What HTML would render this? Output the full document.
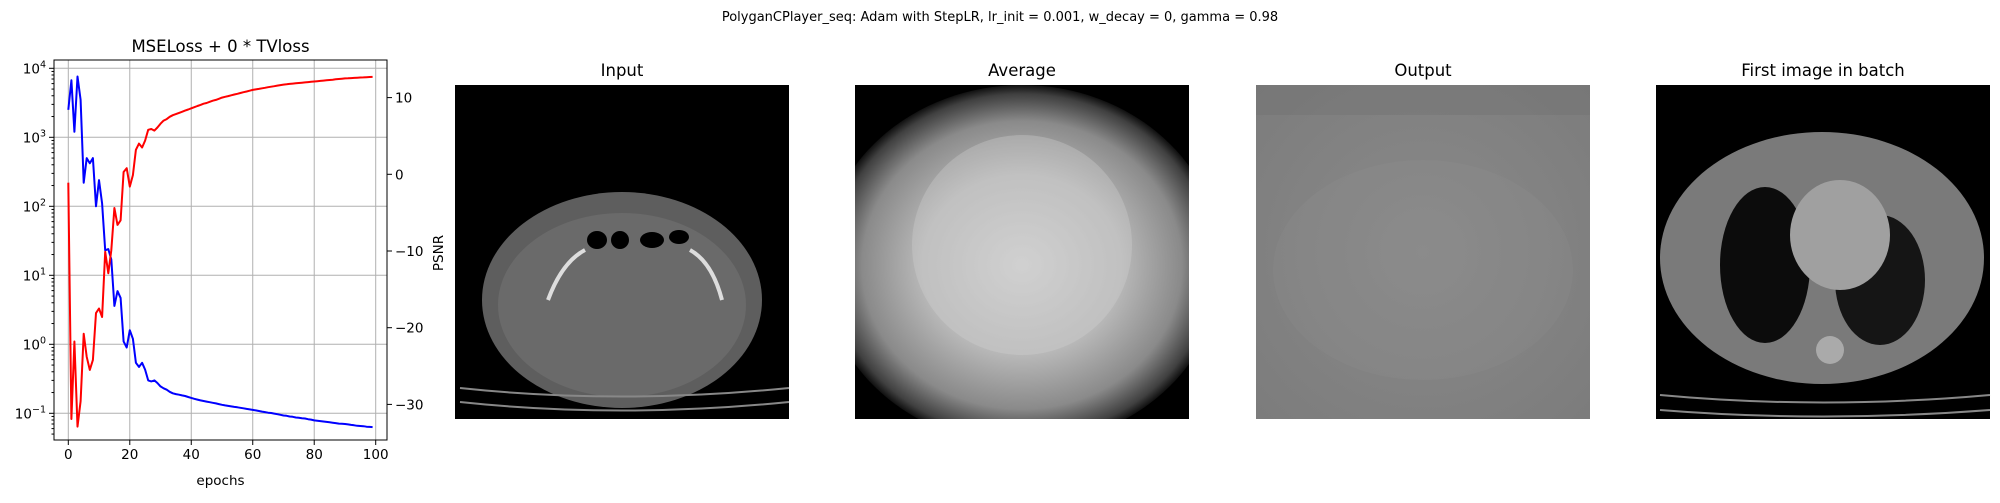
<!DOCTYPE html>
<html><head><meta charset="utf-8"><style>
body{margin:0;background:#fff;width:2000px;height:498px;overflow:hidden;font-family:"Liberation Sans","DejaVu Sans",sans-serif}
svg text{font-family:"DejaVu Sans","Liberation Sans",sans-serif}
</style></head><body>
<svg id="fig" width="2000" height="498" viewBox="0 0 2000 498" xmlns="http://www.w3.org/2000/svg">
<defs>
<radialGradient id="avgG" cx="0.5" cy="0.5" r="0.5"><stop offset="0" stop-color="#d0d0d0"/><stop offset="0.5" stop-color="#b8b8b8"/><stop offset="0.8" stop-color="#8a8a8a"/><stop offset="0.95" stop-color="#404040"/><stop offset="1" stop-color="#101010"/></radialGradient>
<radialGradient id="outG" cx="0.5" cy="0.5" r="0.7"><stop offset="0" stop-color="#8a8a8a"/><stop offset="1" stop-color="#7c7c7c"/></radialGradient>
<clipPath id="avgClip"><rect x="855" y="85" width="334" height="334"/></clipPath>
</defs>
<text x="1000" y="21" font-size="13" text-anchor="middle">PolyganCPlayer_seq: Adam with StepLR, lr_init = 0.001, w_decay = 0, gamma = 0.98</text>
<g id="chart"></g>
<g>
<text x="622" y="76" font-size="16.5" text-anchor="middle">Input</text>
<rect x="455" y="85" width="334" height="334" fill="#000"/>
<ellipse cx="622" cy="300" rx="140" ry="108" fill="#5e5e5e"/>
<ellipse cx="622" cy="305" rx="124" ry="92" fill="#6a6a6a"/>
<ellipse cx="597" cy="240" rx="10" ry="9" fill="#000"/><ellipse cx="620" cy="240" rx="9" ry="9" fill="#000"/><ellipse cx="652" cy="240" rx="12" ry="8" fill="#000"/><ellipse cx="679" cy="237" rx="10" ry="7" fill="#000"/>
<path d="M548 300 Q562 262 585 250 M690 250 Q712 262 722 300" stroke="#ddd" stroke-width="4" fill="none"/>
<path d="M460 388 Q620 405 789 388 M460 402 Q620 419 789 402" stroke="#888" stroke-width="2" fill="none"/>
</g>
<g>
<text x="1022" y="76" font-size="16.5" text-anchor="middle">Average</text>
<rect x="855" y="85" width="334" height="334" fill="#000"/>
<g clip-path="url(#avgClip)">
<ellipse cx="1022" cy="265" rx="200" ry="180" fill="url(#avgG)"/>
<ellipse cx="1022" cy="245" rx="110" ry="110" fill="#d0d0d0" opacity="0.35"/>
</g>
</g>
<g>
<text x="1423" y="76" font-size="16.5" text-anchor="middle">Output</text>
<rect x="1256" y="85" width="334" height="334" fill="url(#outG)"/>
<rect x="1256" y="85" width="334" height="30" fill="#707070" opacity="0.4"/>
<ellipse cx="1423" cy="270" rx="150" ry="110" fill="#909090" opacity="0.25"/>
</g>
<g>
<text x="1823" y="76" font-size="16.5" text-anchor="middle">First image in batch</text>
<rect x="1656" y="85" width="334" height="334" fill="#000"/>
<ellipse cx="1822" cy="258" rx="162" ry="126" fill="#7a7a7a"/>
<ellipse cx="1765" cy="265" rx="45" ry="78" fill="#0c0c0c"/>
<ellipse cx="1880" cy="280" rx="45" ry="65" fill="#151515"/>
<ellipse cx="1840" cy="235" rx="50" ry="55" fill="#a0a0a0"/>
<ellipse cx="1830" cy="350" rx="14" ry="14" fill="#aaa"/>
<path d="M1660 395 Q1822 410 1990 395 M1660 410 Q1822 423 1990 410" stroke="#888" stroke-width="2" fill="none"/>
</g>
</svg>
<script>
const epochs=[];for(let i=0;i<100;i++)epochs.push(i);
const mseLoss=[2500,6700,1200,7600,3500,220,500,420,500,100,240,110,23,24,17,3.6,5.9,4.7,1.1,0.9,1.6,1.2,0.54,0.47,0.54,0.43,0.30,0.29,0.30,0.275,0.245,0.23,0.22,0.205,0.195,0.19,0.186,0.182,0.178,0.172,0.167,0.162,0.158,0.154,0.151,0.148,0.145,0.142,0.139,0.136,0.133,0.130,0.128,0.126,0.124,0.122,0.120,0.118,0.116,0.114,0.112,0.110,0.108,0.106,0.104,0.102,0.101,0.099,0.097,0.095,0.093,0.092,0.090,0.089,0.087,0.086,0.085,0.084,0.082,0.081,0.079,0.078,0.077,0.076,0.075,0.074,0.073,0.072,0.071,0.0705,0.070,0.069,0.068,0.067,0.066,0.0655,0.065,0.064,0.0635,0.063];
const psnr=[-1.1,-31.9,-21.8,-32.9,-29.6,-20.8,-23.8,-25.5,-24.2,-18.1,-17.5,-18.6,-10.1,-12.9,-9.9,-4.4,-6.6,-6.0,0.3,0.8,-1.6,-0.1,3.2,4.0,3.5,4.4,5.8,5.9,5.7,6.1,6.6,7.0,7.2,7.5,7.7,7.85,8.0,8.15,8.3,8.45,8.6,8.75,8.9,9.05,9.2,9.3,9.45,9.6,9.7,9.85,10.0,10.1,10.2,10.3,10.4,10.5,10.6,10.7,10.8,10.9,11.0,11.07,11.14,11.21,11.28,11.35,11.42,11.49,11.56,11.63,11.7,11.74,11.78,11.82,11.86,11.9,11.94,11.98,12.02,12.06,12.1,12.14,12.18,12.22,12.26,12.3,12.34,12.38,12.42,12.46,12.5,12.52,12.54,12.57,12.6,12.62,12.64,12.66,12.68,12.7];
const xTicks=[0,20,40,60,80,100];
const yLogTicks=[-1,0,1,2,3,4];
const psnrTicks=[10,0,-10,-20,-30];
const NS='http://www.w3.org/2000/svg';
const L=54,R=387,T=60,B=440;
const sx=e=>68.3+e*3.074;
const sy=v=>344.3-Math.log10(v)*69;
const sp=v=>174.3-v*7.67;
const g=document.getElementById('chart');
function mk(tag,attrs,parent){const e=document.createElementNS(NS,tag);for(const k in attrs)e.setAttribute(k,attrs[k]);(parent||g).appendChild(e);return e;}
xTicks.forEach(t=>{const l=mk('line',{x1:sx(t),x2:sx(t),y1:T,y2:B,stroke:'#b0b0b0','stroke-width':1});

});
yLogTicks.forEach(t=>{const y=sy(Math.pow(10,t));if(y<T||y>B)return;const l=mk('line',{x1:L,x2:R,y1:y,y2:y,stroke:'#b0b0b0','stroke-width':1});

});
function path(vals,fy,color,name){let d='';vals.forEach((v,i)=>{d+=(i?'L':'M')+sx(epochs[i]).toFixed(1)+' '+fy(v).toFixed(1);});
const p=mk('path',{d:d,fill:'none',stroke:color,'stroke-width':2,'stroke-linejoin':'round'});

}
path(mseLoss,sy,'#0000ff','mse-loss-line');
path(psnr,sp,'#ff0000','psnr-line');
const fr=mk('rect',{x:L,y:T,width:R-L,height:B-T,fill:'none',stroke:'#000','stroke-width':1});


xTicks.forEach(t=>{mk('line',{x1:sx(t),x2:sx(t),y1:B,y2:B+5,stroke:'#000'});
const tx=mk('text',{x:sx(t),y:B+19,'font-size':13.5,'text-anchor':'middle'});tx.textContent=t;

});
const xl=mk('text',{x:(L+R)/2,y:485,'font-size':13.5,'text-anchor':'middle'});xl.textContent='epochs';


for(let d=-2;d<=4;d++){for(let m=1;m<10;m++){const v=m*Math.pow(10,d);const y=sy(v);if(y<T||y>B)continue;
mk('line',{x1:L-(m==1?5:2.5),x2:L,y1:y,y2:y,stroke:'#000'});}}
yLogTicks.forEach(t=>{const y=sy(Math.pow(10,t));
const tx=mk('text',{x:L-8,y:y+5,'font-size':13.5,'text-anchor':'end'});


const a=document.createElementNS(NS,'tspan');a.textContent='10';tx.appendChild(a);
const b=document.createElementNS(NS,'tspan');b.setAttribute('dy','-6');b.setAttribute('font-size','9.5');b.textContent=(t<0?'\u2212':'')+Math.abs(t);tx.appendChild(b);});
psnrTicks.forEach(t=>{const y=sp(t);mk('line',{x1:R,x2:R+5,y1:y,y2:y,stroke:'#000'});
const tx=mk('text',{x:R+8,y:y+5,'font-size':13.5});tx.textContent=(t<0?'\u2212':'')+Math.abs(t);

});
const pl=mk('text',{x:443,y:253,'font-size':13.5,'text-anchor':'middle',transform:'rotate(-90 443 253)'});pl.textContent='PSNR';


const ti=mk('text',{x:(L+R)/2,y:52,'font-size':16.5,'text-anchor':'middle'});ti.textContent='MSELoss + 0 * TVloss';


</script>
</body></html>
